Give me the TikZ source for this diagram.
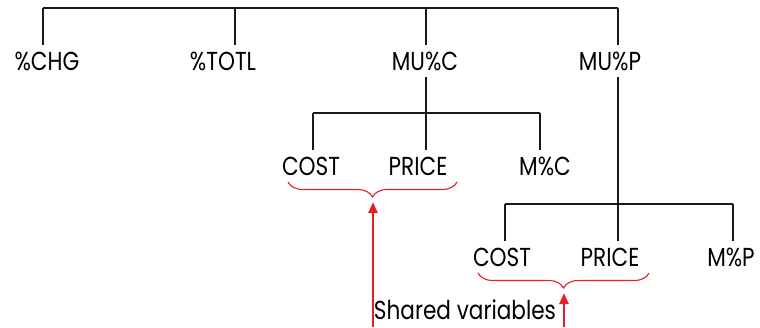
\documentclass[tikz,border=0pt]{standalone}
\usepackage{fontspec}
\setmainfont{Poppins}[FakeStretch=0.83]
\usetikzlibrary{arrows.meta,decorations.pathreplacing}
\definecolor{hpred}{RGB}{226,32,38}
\tikzset{
  lbl/.style={font=\fontsize{26}{30}\selectfont,anchor=base,inner sep=6pt},
  tline/.style={line width=1.7pt,black!90},
  sbrace/.style={hpred,line width=1.1pt,decorate,decoration={brace,mirror,amplitude=15pt}},
  sarrow/.style={hpred,line width=2.4pt,-{Triangle[length=11pt,width=9pt]}}
}
\begin{document}
\begin{tikzpicture}[x=1pt,y=-1pt]
  \useasboundingbox (0,0) rectangle (760,327);
  \node[lbl] (chg) at (47,70) {\%CHG}; \node[lbl] (totl) at (223,70) {\%TOTL};
  \node[lbl] (muc) at (425,70) {MU\%C}; \node[lbl] (mup) at (610,70) {MU\%P};
  \node[lbl] (costa) at (311,175) {COST}; \node[lbl] (pricea) at (418,175) {PRICE}; \node[lbl] (mc) at (545,175) {M\%C};
  \node[lbl] (costb) at (502,266) {COST}; \node[lbl] (priceb) at (610,266) {PRICE}; \node[lbl] (mp) at (731,266) {M\%P};
  \node[lbl,inner sep=1pt] (shared) at (465,319) {Shared variables};
  \coordinate (t1) at (43,8); \coordinate (t2) at (235,8); \coordinate (t3) at (426,8); \coordinate (t4) at (618,8);
  \draw[tline] (t1) -- (t4);
  \draw[tline] (t1) -- (t1 |- chg.north); \draw[tline] (t2) -- (t2 |- totl.north);
  \draw[tline] (t3) -- (t3 |- muc.north); \draw[tline] (t4) -- (t4 |- mup.north);
  \coordinate (ma) at (313,113); \coordinate (mb) at (426,113); \coordinate (mcc) at (540,113);
  \draw[tline] (mb |- muc.south) -- (mb); \draw[tline] (ma) -- (mcc);
  \draw[tline] (ma) -- (ma |- costa.north); \draw[tline] (mb) -- (mb |- pricea.north); \draw[tline] (mcc) -- (mcc |- mc.north);
  \coordinate (pa) at (505,204); \coordinate (pb) at (618,204); \coordinate (pc) at (733,204);
  \draw[tline] (pb |- mup.south) -- (pb); \draw[tline] (pa) -- (pc);
  \draw[tline] (pa) -- (pa |- costb.north); \draw[tline] (pb) -- (pb |- priceb.north); \draw[tline] (pc) -- (pc |- mp.north);
  \coordinate (ba) at (288,182); \coordinate (bb) at (457,182);
  \coordinate (bc) at (478,273); \coordinate (bd) at (649,273);
  \draw[sbrace] (ba) -- (bb); \draw[sbrace] (bc) -- (bd);
  \coordinate (ea) at (373,327); \coordinate (eb) at (564,327);
  \coordinate (fa) at (373,202); \coordinate (fb) at (564,293);
  \draw[sarrow] (ea) -- (fa); \draw[sarrow] (eb) -- (fb);
\end{tikzpicture}
\end{document}
